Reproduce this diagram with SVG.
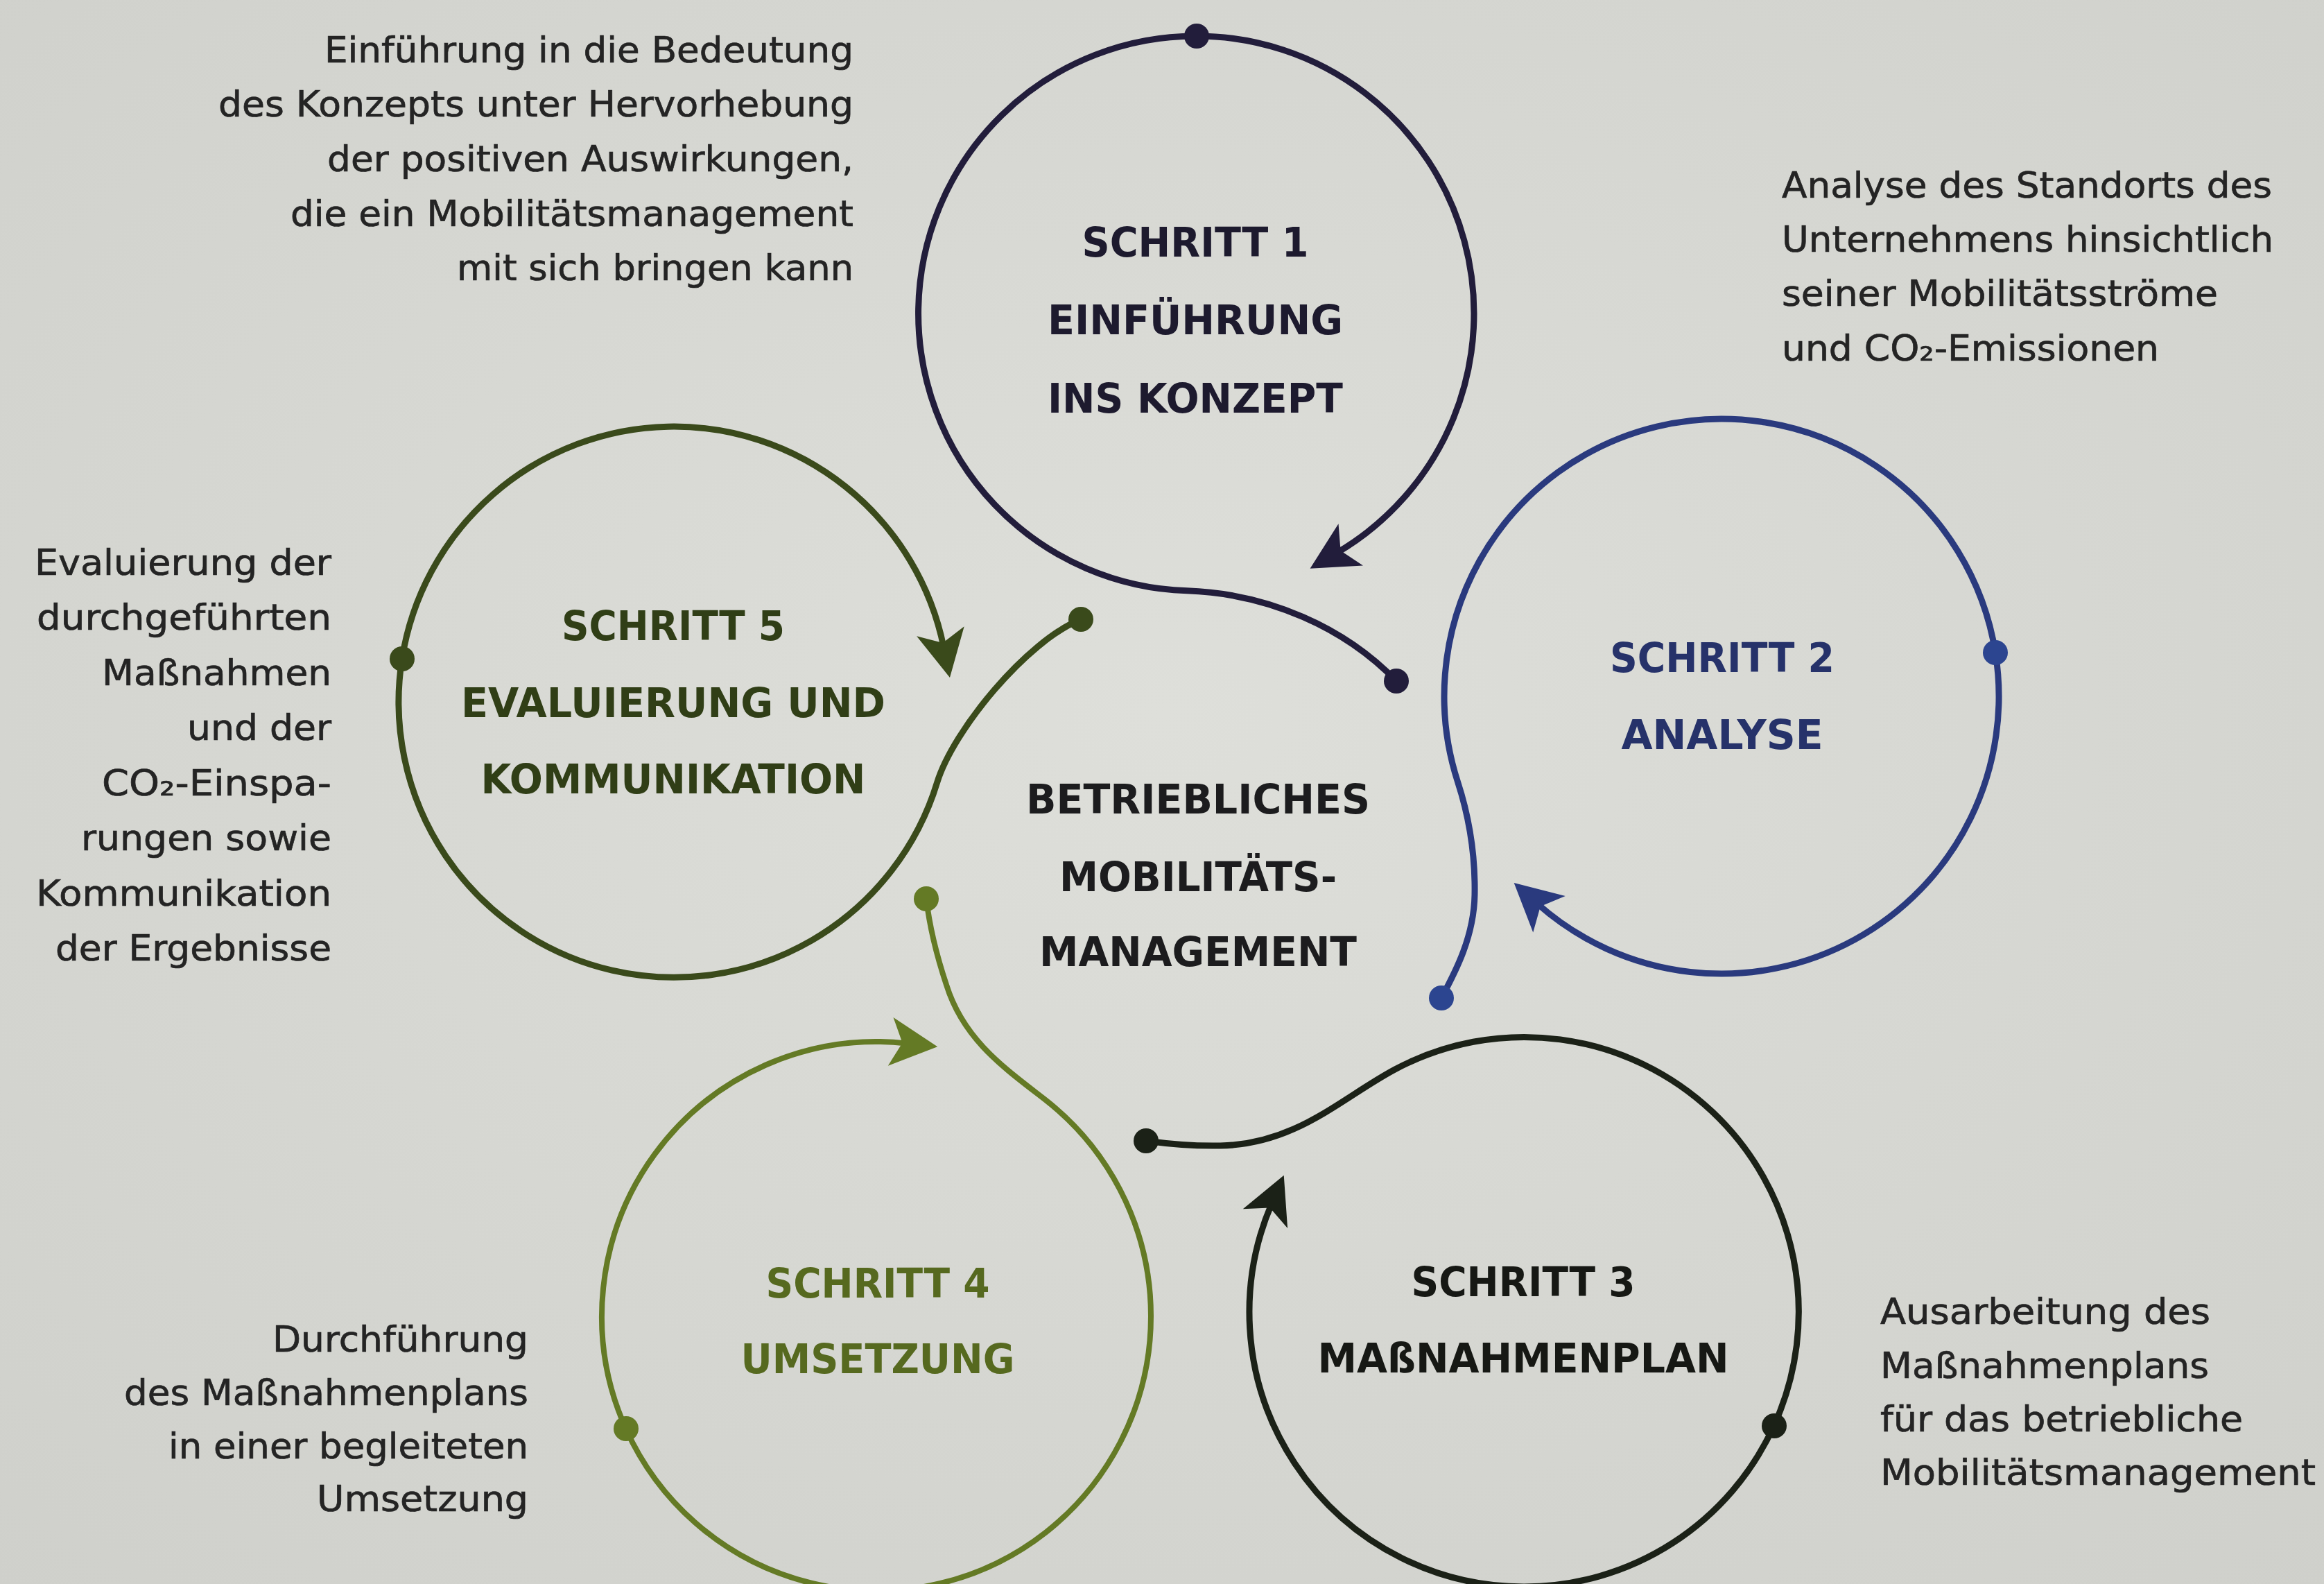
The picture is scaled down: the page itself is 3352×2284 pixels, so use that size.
<svg xmlns="http://www.w3.org/2000/svg" width="3352" height="2284" viewBox="0 0 3352 2284">
  <defs>
    <radialGradient id="paper" cx="0.5" cy="0.45" r="0.75">
      <stop offset="0" stop-color="#dedfda"/>
      <stop offset="1" stop-color="#cfd0cb"/>
    </radialGradient>
    <!-- barbed arrowheads, tip 45px beyond the end of each arc -->
    <marker id="ah1" markerUnits="userSpaceOnUse" viewBox="-72 -40 82 80" refX="-45" refY="0" markerWidth="82" markerHeight="80" orient="auto">
      <path d="M0,0 L-68,-35 L-51,0 L-68,35 Z" fill="#221d3b"/>
    </marker>
    <marker id="ah2" markerUnits="userSpaceOnUse" viewBox="-72 -40 82 80" refX="-45" refY="0" markerWidth="82" markerHeight="80" orient="auto">
      <path d="M0,0 L-68,-35 L-51,0 L-68,35 Z" fill="#2a3a7e"/>
    </marker>
    <marker id="ah3" markerUnits="userSpaceOnUse" viewBox="-72 -40 82 80" refX="-45" refY="0" markerWidth="82" markerHeight="80" orient="auto">
      <path d="M0,0 L-68,-35 L-51,0 L-68,35 Z" fill="#1b2117"/>
    </marker>
    <marker id="ah4" markerUnits="userSpaceOnUse" viewBox="-72 -40 82 80" refX="-45" refY="0" markerWidth="82" markerHeight="80" orient="auto">
      <path d="M0,0 L-68,-35 L-51,0 L-68,35 Z" fill="#647a25"/>
    </marker>
    <marker id="ah5" markerUnits="userSpaceOnUse" viewBox="-72 -40 82 80" refX="-45" refY="0" markerWidth="82" markerHeight="80" orient="auto">
      <path d="M0,0 L-68,-35 L-51,0 L-68,35 Z" fill="#3a4a1b"/>
    </marker>
  </defs>
  <style>
    .loop { fill: none; stroke-width: 9; stroke-linecap: butt; }
    .s1 { stroke: #221d3b; } .f1 { fill: #221d3b; }
    .s2 { stroke: #2a3a7e; } .f2 { fill: #2c4590; }
    .s3 { stroke: #1b2117; } .f3 { fill: #1b2117; }
    .s4 { stroke: #647a25; stroke-width: 8; } .f4 { fill: #647a25; }
    .s5 { stroke: #3a4a1b; } .f5 { fill: #3a4a1b; }
    .h { font-family: "DejaVu Sans", "Liberation Sans", sans-serif; font-weight: bold; font-size: 58px; text-anchor: middle; }
    .d { font-family: "DejaVu Sans", "Liberation Sans", sans-serif; font-size: 52px; fill: #242424; stroke: #242424; stroke-width: 0.7; }
    .end { text-anchor: end; }
    .t1 { fill: #1d1a2e; } .t2 { fill: #26326a; } .t3 { fill: #161814; }
    .t4 { fill: #56691f; } .t5 { fill: #303e16; } .tc { fill: #1c1c1e; }
  </style>

  <rect width="3352" height="2284" fill="url(#paper)"/>

  <g id="connectors">
    <!-- step 1 loop -->
    <path class="loop s1" d="M1726,52 A400,400 0 0 1 1928.4,797.0" marker-end="url(#ah1)"/>
    <path class="loop s1" d="M1726,52 A400,400 0 0 0 1712,851.8 C1830,856 1940,905 2014,982"/>
    <circle class="f1" cx="1726" cy="52" r="18"/>
    <circle class="f1" cx="2014" cy="982" r="18"/>

    <!-- step 2 loop -->
    <path class="loop s2" d="M2878.1,941.4 A400,400 0 0 1 2217.3,1303.0" marker-end="url(#ah2)"/>
    <path class="loop s2" d="M2878.1,941.4 A400,400 0 1 0 2102.6,1127.6 C2118,1175 2128,1230 2127,1290 C2126,1350 2100,1400 2079,1439"/>
    <circle class="f2" cx="2878" cy="941" r="18"/>
    <circle class="f2" cx="2079" cy="1439" r="18"/>

    <!-- step 3 loop -->
    <path class="loop s3" d="M2558.7,2055.6 A396,396 0 0 1 2198,2288 A396,396 0 0 1 1834,1736" marker-end="url(#ah3)"/>
    <path class="loop s3" d="M2558.7,2055.6 A396,396 0 0 0 2012,1542 C1935,1583 1870,1650 1760,1652 C1710,1653 1675,1648 1653,1645"/>
    <circle class="f3" cx="2559" cy="2056" r="18"/>
    <circle class="f3" cx="1653" cy="1645" r="18"/>

    <!-- step 4 loop -->
    <path class="loop s4" d="M902.8,2060.3 A396,396 0 0 1 1307.5,1504.4" marker-end="url(#ah4)"/>
    <path class="loop s4" d="M902.8,2060.3 A396,396 0 1 0 1507.8,1585.9 C1450,1541 1390,1500 1365,1420 C1350,1375 1340,1330 1336,1296"/>
    <circle class="f4" cx="903" cy="2060" r="18"/>
    <circle class="f4" cx="1336" cy="1296" r="18"/>

    <!-- step 5 loop -->
    <path class="loop s5" d="M579.9,949.9 A397,397 0 0 1 1361,932.8" marker-end="url(#ah5)"/>
    <path class="loop s5" d="M579.9,949.9 A397,397 0 0 0 1351.7,1128.1 C1375,1053 1480,925 1559,893"/>
    <circle class="f5" cx="580" cy="950" r="18"/>
    <circle class="f5" cx="1559" cy="893" r="18"/>
  </g>

  <g id="step-1">
    <text class="h t1" x="1724" y="370" textLength="327" lengthAdjust="spacingAndGlyphs">SCHRITT 1</text>
    <text class="h t1" x="1724" y="482" textLength="426" lengthAdjust="spacingAndGlyphs">EINFÜHRUNG</text>
    <text class="h t1" x="1724" y="595" textLength="426" lengthAdjust="spacingAndGlyphs">INS KONZEPT</text>
  </g>
  <g id="step-2">
    <text class="h t2" x="2484" y="969" textLength="324" lengthAdjust="spacingAndGlyphs">SCHRITT 2</text>
    <text class="h t2" x="2484" y="1080" textLength="291" lengthAdjust="spacingAndGlyphs">ANALYSE</text>
  </g>
  <g id="step-3">
    <text class="h t3" x="2197" y="1869" textLength="323" lengthAdjust="spacingAndGlyphs">SCHRITT 3</text>
    <text class="h t3" x="2197" y="1979" textLength="593" lengthAdjust="spacingAndGlyphs">MAßNAHMENPLAN</text>
  </g>
  <g id="step-4">
    <text class="h t4" x="1266" y="1871" textLength="323" lengthAdjust="spacingAndGlyphs">SCHRITT 4</text>
    <text class="h t4" x="1266" y="1980" textLength="395" lengthAdjust="spacingAndGlyphs">UMSETZUNG</text>
  </g>
  <g id="step-5">
    <text class="h t5" x="971" y="923" textLength="322" lengthAdjust="spacingAndGlyphs">SCHRITT 5</text>
    <text class="h t5" x="971" y="1034" textLength="612" lengthAdjust="spacingAndGlyphs">EVALUIERUNG UND</text>
    <text class="h t5" x="971" y="1144" textLength="555" lengthAdjust="spacingAndGlyphs">KOMMUNIKATION</text>
  </g>
  <g id="center">
    <text class="h tc" x="1728" y="1173" textLength="496" lengthAdjust="spacingAndGlyphs">BETRIEBLICHES</text>
    <text class="h tc" x="1728" y="1285" textLength="400" lengthAdjust="spacingAndGlyphs">MOBILITÄTS-</text>
    <text class="h tc" x="1728" y="1393" textLength="458" lengthAdjust="spacingAndGlyphs">MANAGEMENT</text>
  </g>

  <g id="note-1">
    <text class="d end" x="1231" y="90" textLength="763" lengthAdjust="spacingAndGlyphs">Einführung in die Bedeutung</text>
    <text class="d end" x="1231" y="168" textLength="916" lengthAdjust="spacingAndGlyphs">des Konzepts unter Hervorhebung</text>
    <text class="d end" x="1231" y="247" textLength="759" lengthAdjust="spacingAndGlyphs">der positiven Auswirkungen,</text>
    <text class="d end" x="1231" y="326" textLength="812" lengthAdjust="spacingAndGlyphs">die ein Mobilitätsmanagement</text>
    <text class="d end" x="1231" y="404" textLength="572" lengthAdjust="spacingAndGlyphs">mit sich bringen kann</text>
  </g>
  <g id="note-2">
    <text class="d" x="2570" y="285" textLength="707" lengthAdjust="spacingAndGlyphs">Analyse des Standorts des</text>
    <text class="d" x="2570" y="363" textLength="709" lengthAdjust="spacingAndGlyphs">Unternehmens hinsichtlich</text>
    <text class="d" x="2570" y="441" textLength="629" lengthAdjust="spacingAndGlyphs">seiner Mobilitätsströme</text>
    <text class="d" x="2570" y="520" textLength="544" lengthAdjust="spacingAndGlyphs">und CO₂-Emissionen</text>
  </g>
  <g id="note-3">
    <text class="d" x="2712" y="1909" textLength="476" lengthAdjust="spacingAndGlyphs">Ausarbeitung des</text>
    <text class="d" x="2712" y="1987" textLength="474" lengthAdjust="spacingAndGlyphs">Maßnahmenplans</text>
    <text class="d" x="2712" y="2064" textLength="523" lengthAdjust="spacingAndGlyphs">für das betriebliche</text>
    <text class="d" x="2712" y="2141" textLength="628" lengthAdjust="spacingAndGlyphs">Mobilitätsmanagement</text>
  </g>
  <g id="note-4">
    <text class="d end" x="762" y="1949" textLength="369" lengthAdjust="spacingAndGlyphs">Durchführung</text>
    <text class="d end" x="762" y="2026" textLength="583" lengthAdjust="spacingAndGlyphs">des Maßnahmenplans</text>
    <text class="d end" x="762" y="2103" textLength="519" lengthAdjust="spacingAndGlyphs">in einer begleiteten</text>
    <text class="d end" x="762" y="2179" textLength="305" lengthAdjust="spacingAndGlyphs">Umsetzung</text>
  </g>
  <g id="note-5">
    <text class="d end" x="478" y="829" textLength="428" lengthAdjust="spacingAndGlyphs">Evaluierung der</text>
    <text class="d end" x="478" y="908" textLength="425" lengthAdjust="spacingAndGlyphs">durchgeführten</text>
    <text class="d end" x="478" y="988" textLength="331" lengthAdjust="spacingAndGlyphs">Maßnahmen</text>
    <text class="d end" x="478" y="1067" textLength="208" lengthAdjust="spacingAndGlyphs">und der</text>
    <text class="d end" x="478" y="1147" textLength="331" lengthAdjust="spacingAndGlyphs">CO₂-Einspa-</text>
    <text class="d end" x="478" y="1226" textLength="361" lengthAdjust="spacingAndGlyphs">rungen sowie</text>
    <text class="d end" x="478" y="1306" textLength="426" lengthAdjust="spacingAndGlyphs">Kommunikation</text>
    <text class="d end" x="478" y="1385" textLength="398" lengthAdjust="spacingAndGlyphs">der Ergebnisse</text>
  </g>
</svg>
